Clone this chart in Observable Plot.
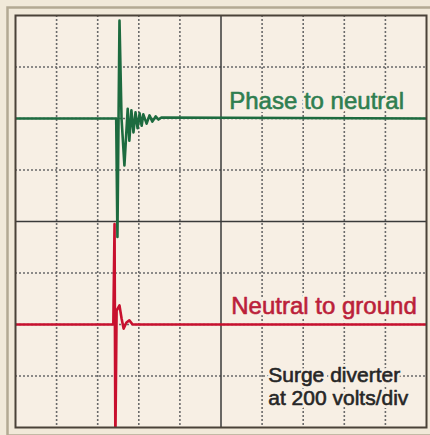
<!DOCTYPE html>
<html>
<head>
<meta charset="utf-8">
<script src="https://cdn.jsdelivr.net/npm/d3@7"></script>
<script src="https://cdn.jsdelivr.net/npm/@observablehq/plot@0.6"></script>
<style>
  html, body { margin: 0; padding: 0; background: #f1e9d9; }
  #chart svg { display: block; }
</style>
</head>
<body>
<div id="chart"></div>
<script>
// Grid divisions (10 horizontal x 8 vertical), centre lines solid
const xDivs = [1, 2, 3, 4, 6, 7, 8, 9];
const yDivs = [-3, -2, -1, 1, 2, 3];
const xCentre = [5];
const yCentre = [0];

// Phase to neutral trace (x in divisions, y in divisions)
const phaseX = [0, 2.45, 2.48, 2.53, 2.58, 2.65, 2.73, 2.77, 2.82, 2.87, 2.92, 2.97, 3.02, 3.07, 3.11, 3.19, 3.26, 3.33, 3.41, 3.48, 3.55, 10];
const phaseY = [2, 2, -0.3, 3.9, 2.0, 1.09, 2.19, 1.57, 2.16, 1.73, 2.12, 1.81, 2.10, 1.86, 2.08, 1.90, 2.06, 1.94, 2.04, 1.98, 2.02, 2];

// Neutral to ground trace
const neutralX = [0, 2.38, 2.41, 2.43, 2.46, 2.53, 2.58, 2.63, 2.70, 2.77, 2.85, 10];
const neutralY = [-2, -2, -0.05, -4.3, -1.73, -1.63, -1.88, -2.08, -1.96, -1.92, -2.0, -2];

const labels = ["Phase to neutral", "Neutral to ground", "Surge diverter\nat 200 volts/div"];
const labelX = [5.2, 5.25, 6.15];
const labelY = [2.35, -1.63, -3.2];
const labelSize = [24, 24, 21];
const labelColor = ["#2f7e50", "#bb1f3a", "#262626"];

const phase = phaseX.map((x, i) => ({x, y: phaseY[i]}));
const neutral = neutralX.map((x, i) => ({x, y: neutralY[i]}));
const BG = "#f7efe4";

const textMarks = labels.flatMap((t, i) => [
  Plot.text([i], {x: labelX[i], y: labelY[i], text: () => t, textAnchor: "start", fontSize: labelSize[i], lineHeight: 1.08, fill: BG, stroke: BG, strokeWidth: 6}),
  Plot.text([i], {x: labelX[i], y: labelY[i], text: () => t, textAnchor: "start", fontSize: labelSize[i], lineHeight: 1.08, fill: labelColor[i], stroke: labelColor[i], strokeWidth: 0.6})
]);

const chart = Plot.plot({
  width: 430,
  height: 435,
  marginLeft: 15,
  marginRight: 4,
  marginTop: 15,
  marginBottom: 8,
  x: {domain: [0, 10], axis: null},
  y: {domain: [-4, 4], axis: null},
  style: {background: "#f1e9d9", fontFamily: "'Liberation Sans', Arial, sans-serif"},
  marks: [
    Plot.frame({inset: -8, stroke: "#b3a993", strokeWidth: 2.5}),
    Plot.frame({fill: BG}),
    Plot.ruleX(xDivs, {stroke: "#6a6a6a", strokeWidth: 1.6, strokeDasharray: "2,2"}),
    Plot.ruleY(yDivs, {stroke: "#6a6a6a", strokeWidth: 1.6, strokeDasharray: "2,2"}),
    Plot.ruleX(xCentre, {stroke: "#3a3a3a", strokeWidth: 1.5}),
    Plot.ruleY(yCentre, {stroke: "#3a3a3a", strokeWidth: 1.5}),
    ...textMarks,
    Plot.line(phase, {x: "x", y: "y", stroke: "#1d6b3f", strokeWidth: 2.6, clip: true, curve: "linear"}),
    Plot.line(neutral, {x: "x", y: "y", stroke: "#c8102e", strokeWidth: 2.6, clip: true, curve: "linear"}),
    Plot.frame({stroke: "#4a4238", strokeWidth: 2})
  ]
});
document.getElementById("chart").appendChild(chart);
</script>
</body>
</html>
